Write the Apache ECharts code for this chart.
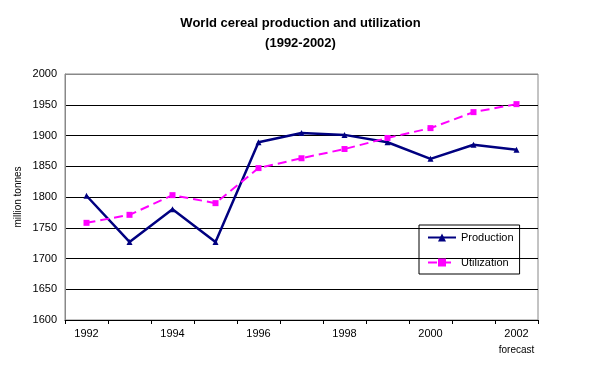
<!DOCTYPE html>
<html><head><meta charset="utf-8">
<script src="https://cdn.jsdelivr.net/npm/echarts@6/dist/echarts.min.js"></script>
<style>html,body{margin:0;padding:0;background:#fff}#c{width:601px;height:369px}</style>
</head><body><div id="c"></div>
<script>
const years = ['1992','1993','1994','1995','1996','1997','1998','1999','2000','2001','2002'];
const production = [1802, 1727, 1780, 1727, 1889, 1904, 1901, 1889, 1862, 1885, 1877];
const utilization = [1758, 1771, 1803, 1790, 1847, 1863, 1878, 1896, 1912, 1938, 1951];
const yTicks = {min: 1600, max: 2000, interval: 50};
const yAxisName = 'million tonnes';

const chart = echarts.init(document.getElementById('c'), null, {renderer: 'canvas'});
const gridColors = ['#000','#000','#000','#000','#000','#000','#000','#000','#888'];
chart.setOption({
  animation: false,
  textStyle: {fontFamily: 'Liberation Sans, Arial, sans-serif'},
  title: {
    text: 'World cereal production and utilization\n(1992-2002)',
    left: 'center', top: 8,
    textStyle: {fontSize: 13, fontWeight: 'bold', color: '#000', lineHeight: 20}
  },
  graphic: [{
    type: 'text', x: 18, y: 197, rotation: Math.PI / 2,
    style: {text: yAxisName, fontSize: 10, fill: '#000', align: 'center', verticalAlign: 'middle',
            fontFamily: 'Liberation Sans, Arial, sans-serif'}
  }],
  grid: {left: 65, right: 63, top: 74, bottom: 49, show: true, borderColor: '#888', borderWidth: 1},
  legend: {
    orient: 'vertical', left: 419, top: 225,
    borderColor: '#000', borderWidth: 1, padding: [7, 6, 6, 8],
    itemGap: 14, itemWidth: 28, itemHeight: 10,
    textStyle: {fontSize: 11, color: '#000'},
    data: ['Production', 'Utilization']
  },
  xAxis: {
    type: 'category', data: years, boundaryGap: true,
    axisLine: {lineStyle: {color: '#000'}},
    axisTick: {show: true, length: 4, interval: 0, lineStyle: {color: '#000'}},
    axisLabel: {
      interval: 1, color: '#000', fontSize: 11, margin: 8,
      formatter: v => v === '2002' ? '2002\n{f|forecast}' : v,
      rich: {f: {fontSize: 10, padding: [6, 0, 0, 0], color: '#000'}}
    }
  },
  yAxis: {
    type: 'value', min: yTicks.min, max: yTicks.max, interval: yTicks.interval,
    axisLine: {show: true, lineStyle: {color: '#888'}},
    axisTick: {show: false},
    axisLabel: {color: '#000', fontSize: 11, margin: 8, formatter: v => String(v)},
    splitLine: {show: true, lineStyle: {color: gridColors, width: 1}}
  },
  series: [
    {
      name: 'Production', type: 'line', data: production,
      symbol: 'triangle', symbolSize: 6,
      lineStyle: {color: '#000080', width: 2.5},
      itemStyle: {color: '#000080'}
    },
    {
      name: 'Utilization', type: 'line', data: utilization,
      symbol: 'rect', symbolSize: 6,
      lineStyle: {color: '#FF00FF', width: 2, type: [9, 5]},
      itemStyle: {color: '#FF00FF'}
    }
  ]
});
</script></body></html>
